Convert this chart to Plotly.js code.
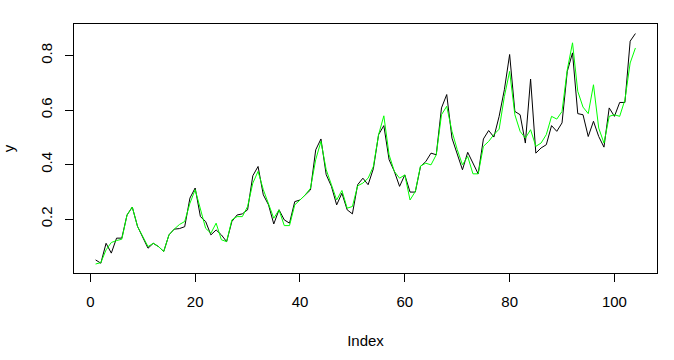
<!DOCTYPE html>
<html>
<head>
<meta charset="utf-8">
<script src="https://cdn.plot.ly/plotly-3.0.1.min.js"></script>
<style>html,body{margin:0;padding:0;background:#fff;}#chart{width:674px;height:360px;}</style>
</head>
<body>
<div id="chart"></div>
<script>
// Series values (index 1..104)
const actual = [0.050,0.038,0.111,0.075,0.130,0.130,0.215,0.244,0.173,0.133,
  0.093,0.111,0.099,0.081,0.142,0.163,0.165,0.172,0.277,0.314,
  0.209,0.191,0.142,0.160,0.142,0.117,0.191,0.215,0.219,0.234,
  0.359,0.393,0.289,0.252,0.182,0.234,0.197,0.185,0.264,0.270,
  0.289,0.307,0.454,0.494,0.363,0.320,0.252,0.295,0.234,0.219,
  0.326,0.350,0.326,0.385,0.510,0.543,0.418,0.375,0.320,0.362,
  0.299,0.299,0.393,0.411,0.442,0.436,0.608,0.657,0.497,0.442,
  0.381,0.445,0.405,0.366,0.494,0.525,0.501,0.577,0.675,0.804,
  0.595,0.583,0.479,0.714,0.442,0.461,0.473,0.543,0.522,0.553,
  0.742,0.810,0.587,0.583,0.503,0.559,0.503,0.464,0.608,0.577,
  0.628,0.628,0.853,0.881];
const fitted = [0.035,0.040,0.087,0.114,0.121,0.126,0.215,0.244,0.173,0.133,
  0.099,0.111,0.099,0.081,0.142,0.163,0.180,0.191,0.258,0.308,
  0.240,0.166,0.148,0.185,0.124,0.117,0.197,0.209,0.209,0.246,
  0.332,0.375,0.308,0.258,0.203,0.234,0.176,0.176,0.252,0.270,
  0.289,0.313,0.418,0.485,0.381,0.326,0.270,0.305,0.240,0.246,
  0.322,0.332,0.350,0.393,0.510,0.579,0.436,0.375,0.350,0.362,
  0.270,0.301,0.395,0.405,0.399,0.436,0.583,0.614,0.522,0.455,
  0.399,0.430,0.366,0.366,0.467,0.485,0.510,0.530,0.650,0.742,
  0.583,0.522,0.497,0.528,0.467,0.479,0.510,0.577,0.567,0.595,
  0.748,0.847,0.669,0.611,0.587,0.693,0.534,0.479,0.577,0.583,
  0.577,0.638,0.773,0.828];
const index = actual.map((_, i) => i + 1);
const xTicks = [0, 20, 40, 60, 80, 100];
const yTicks = [0.2, 0.4, 0.6, 0.8];

const font = {family: 'Liberation Sans, Arial, Helvetica, sans-serif', size: 15, color: '#000'};

const traces = [
  {x: index, y: actual, type: 'scatter', mode: 'lines', line: {color: '#000000', width: 1}, hoverinfo: 'skip'},
  {x: index, y: fitted, type: 'scatter', mode: 'lines', line: {color: '#00ff00', width: 1}, hoverinfo: 'skip'}
];

const layout = {
  width: 674, height: 360,
  margin: {l: 74, r: 17, t: 24, b: 87},
  paper_bgcolor: '#fff', plot_bgcolor: '#fff',
  showlegend: false,
  font: font,
  xaxis: {
    range: [-3.12, 108.12], autorange: false,
    tickvals: xTicks, ticktext: xTicks.map(String),
    ticks: 'outside', ticklen: 8, tickwidth: 1, tickcolor: '#000',
    showline: true, mirror: true, linecolor: '#000', linewidth: 1,
    showgrid: false, zeroline: false,
    tickfont: font, ticklabelstandoff: 7,
    title: {text: 'Index', font: font, standoff: 26}
  },
  yaxis: {
    range: [0.002, 0.916], autorange: false,
    tickvals: yTicks, ticktext: yTicks.map(v => v.toFixed(1)),
    ticks: 'outside', ticklen: 8, tickwidth: 1, tickcolor: '#000',
    tickangle: -90,
    showline: true, mirror: true, linecolor: '#000', linewidth: 1,
    showgrid: false, zeroline: false,
    tickfont: font, ticklabelstandoff: 7,
    title: {text: 'y', font: font, standoff: 22}
  }
};

Plotly.newPlot('chart', traces, layout, {staticPlot: true, displayModeBar: false});
</script>
</body>
</html>
